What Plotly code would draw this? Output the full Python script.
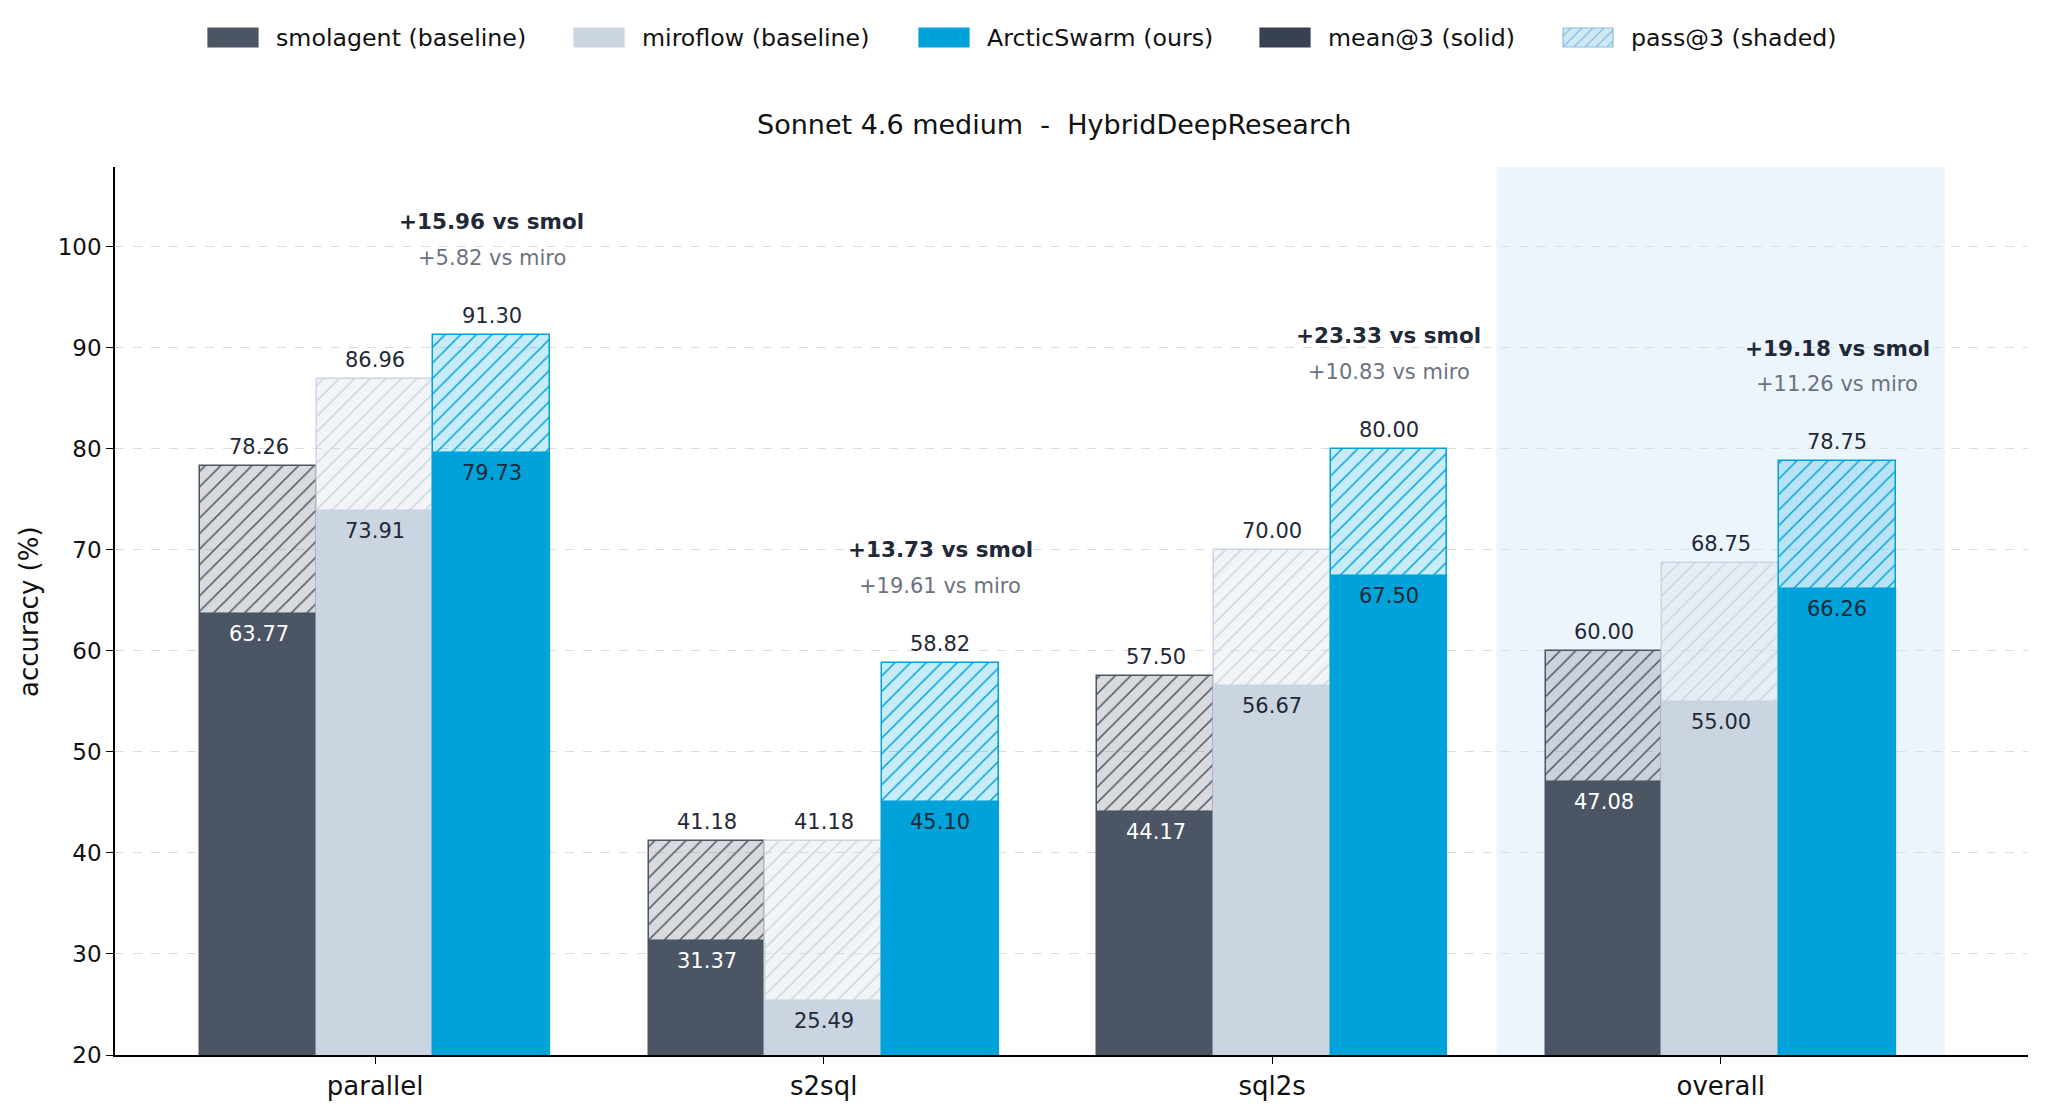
import plotly.graph_objects as go

# ---------------- data ----------------
categories = ["parallel", "s2sql", "sql2s", "overall"]
series_names = ["smolagent (baseline)", "miroflow (baseline)", "ArcticSwarm (ours)"]
smol_mean = [63.77, 31.37, 44.17, 47.08]
smol_pass = [78.26, 41.18, 57.50, 60.00]
miro_mean = [73.91, 25.49, 56.67, 55.00]
miro_pass = [86.96, 41.18, 70.00, 68.75]
arctic_mean = [79.73, 45.10, 67.50, 66.26]
arctic_pass = [91.30, 58.82, 80.00, 78.75]
y_ticks = [20, 30, 40, 50, 60, 70, 80, 90, 100]

# ---------------- style ----------------
FONT = "DejaVu Sans"
colors = ["#4b5563", "#cbd5e1", "#00a3d9"]
rgba_bg = ["rgba(75,85,99,0.22)", "rgba(203,213,225,0.25)", "rgba(0,163,217,0.22)"]
mean_text_colors = ["white", "#1f2937", "#1f2937"]
BAR_W = 0.26
offsets = [-BAR_W, 0.0, BAR_W]

W, H = 2048, 1115
L, R, T, B = 115, 20, 167, 60
PW, PH = W - L - R, H - T - B


def px_x(px):
    return (px - L) / PW


def px_y(py):
    return (H - B - py) / PH


means = [smol_mean, miro_mean, arctic_mean]
passes = [smol_pass, miro_pass, arctic_pass]

fig = go.Figure()

# highlight for "overall"
fig.add_shape(type="rect", xref="x", yref="paper", x0=2.5, x1=3.5, y0=0, y1=1,
              fillcolor="#edf5fc", line_width=0, layer="below")

for s in range(3):
    xs = [i + offsets[s] for i in range(len(categories))]
    fig.add_trace(go.Bar(
        x=xs, y=passes[s], width=BAR_W, showlegend=False,
        marker=dict(color=rgba_bg[s],
                    line=dict(color=colors[s], width=1.5),
                    pattern=dict(shape="/", fgcolor=colors[s], bgcolor=rgba_bg[s],
                                 size=11, solidity=0.14, fillmode="replace")),
        hoverinfo="skip"))
    fig.add_trace(go.Bar(
        x=xs, y=means[s], width=BAR_W, showlegend=False,
        marker=dict(color=colors[s], line=dict(color=colors[s], width=0.5)),
        hoverinfo="skip"))
    for i in range(len(categories)):
        fig.add_annotation(x=xs[i], y=passes[s][i], text=f"{passes[s][i]:.2f}",
                           showarrow=False, yanchor="middle", yshift=19,
                           font=dict(family=FONT, size=21, color="#1f2937"))
        fig.add_annotation(x=xs[i], y=means[s][i], text=f"{means[s][i]:.2f}",
                           showarrow=False, yanchor="middle", yshift=-21,
                           font=dict(family=FONT, size=21, color=mean_text_colors[s]))

# delta annotations above ArcticSwarm bars
for i in range(len(categories)):
    xa = i + offsets[2]
    d_smol = arctic_mean[i] - smol_mean[i]
    d_miro = arctic_mean[i] - miro_mean[i]
    fig.add_annotation(x=xa, y=arctic_pass[i], text=f"<b>+{d_smol:.2f} vs smol</b>",
                       showarrow=False, yanchor="middle", yshift=113,
                       font=dict(family=FONT, size=21.5, color="#1f2937"))
    fig.add_annotation(x=xa, y=arctic_pass[i], text=f"+{d_miro:.2f} vs miro",
                       showarrow=False, yanchor="middle", yshift=77,
                       font=dict(family=FONT, size=21, color="#6b7280"))

# ---------------- manual legend ----------------
legend_items = [
    ("smolagent (baseline)", 208, "#4b5563", None),
    ("miroflow (baseline)", 574, "#cbd5e1", None),
    ("ArcticSwarm (ours)", 919, "#00a3d9", None),
    ("mean@3 (solid)", 1260, "#374151", None),
    ("pass@3 (shaded)", 1563, "#cfe8f4", "#86c0e0"),
]
SW_W, SW_T, SW_B = 50, 28, 47
for label, sx, fill, hatch in legend_items:
    fig.add_shape(type="rect", xref="paper", yref="paper",
                  x0=px_x(sx), x1=px_x(sx + SW_W), y0=px_y(SW_B), y1=px_y(SW_T),
                  fillcolor=fill, line=dict(color=hatch if hatch else fill, width=1.2))
    if hatch:
        segs = []
        for k in range(-2, 7):
            x0 = sx + k * 11
            x1 = x0 + (SW_B - SW_T)
            ya, yb = SW_B, SW_T
            xa_, xb_ = x0, x1
            if xa_ < sx:
                ya = SW_B - (sx - xa_)
                xa_ = sx
            if xb_ > sx + SW_W:
                yb = SW_T + (xb_ - (sx + SW_W))
                xb_ = sx + SW_W
            if xa_ >= xb_:
                continue
            segs.append(f"M{px_x(xa_)},{px_y(ya)} L{px_x(xb_)},{px_y(yb)}")
        fig.add_shape(type="path", xref="paper", yref="paper", path=" ".join(segs),
                      line=dict(color=hatch, width=1.2))
    fig.add_annotation(xref="paper", yref="paper", x=px_x(sx + 66), y=px_y(37.5),
                       text=label, showarrow=False, xanchor="left", yanchor="middle",
                       font=dict(family=FONT, size=23.7, color="#111111"))

# title
fig.add_annotation(xref="paper", yref="paper", x=px_x(1054), y=px_y(124),
                   text="Sonnet 4.6 medium  -  HybridDeepResearch", showarrow=False,
                   xanchor="center", yanchor="middle",
                   font=dict(family=FONT, size=27, color="#111111"))
# y axis title
fig.add_annotation(xref="paper", yref="paper", x=px_x(29), y=px_y(612),
                   text="accuracy (%)", textangle=-90, showarrow=False,
                   xanchor="center", yanchor="middle",
                   font=dict(family=FONT, size=26, color="#111111"))

fig.update_layout(
    width=W, height=H, barmode="overlay", bargap=0,
    margin=dict(l=L, r=R, t=T, b=B, pad=0),
    paper_bgcolor="white", plot_bgcolor="white",
    font=dict(family=FONT, color="#111111"),
    showlegend=False,
)
fig.update_xaxes(range=[-0.58, 3.685], tickmode="array",
                 tickvals=list(range(len(categories))), ticktext=categories,
                 showgrid=False, zeroline=False, showline=True, linecolor="black",
                 linewidth=1.6, ticks="outside", ticklen=7, tickwidth=1.3,
                 tickcolor="black", tickfont=dict(family=FONT, size=26, color="#111111"))
fig.update_yaxes(range=[20, 107.9], tickmode="array", tickvals=y_ticks,
                 showgrid=True, gridcolor="#dcdcdc", griddash="dash", gridwidth=1.3,
                 zeroline=False, showline=True, linecolor="black", linewidth=1.6,
                 ticks="outside", ticklen=7, tickwidth=1.3, tickcolor="black",
                 tickfont=dict(family=FONT, size=23, color="#111111"))

fig.write_html("out.html")
